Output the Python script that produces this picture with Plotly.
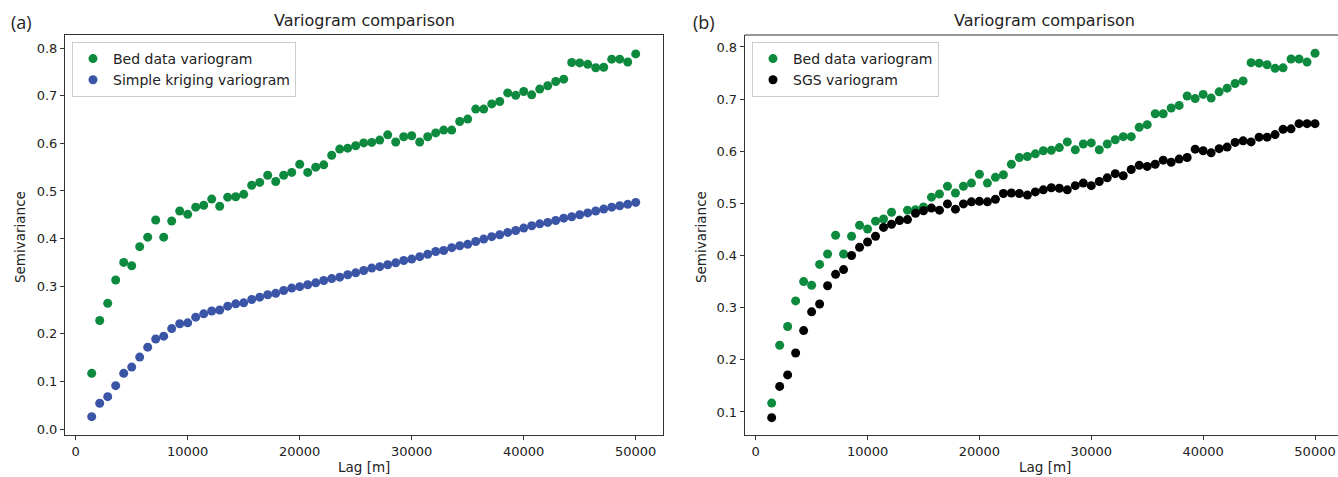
import plotly.graph_objects as go

# ---- data ----
lag = [1429, 2143, 2857, 3571, 4286, 5000, 5714, 6429, 7143, 7857, 8571, 9286,
       10000, 10714, 11429, 12143, 12857, 13571, 14286, 15000, 15714, 16429, 17143, 17857,
       18571, 19286, 20000, 20714, 21429, 22143, 22857, 23571, 24286, 25000, 25714, 26429,
       27143, 27857, 28571, 29286, 30000, 30714, 31429, 32143, 32857, 33571, 34286, 35000,
       35714, 36429, 37143, 37857, 38571, 39286, 40000, 40714, 41429, 42143, 42857, 43571,
       44286, 45000, 45714, 46429, 47143, 47857, 48571, 49286, 50000]

bed_data = [0.117, 0.228, 0.264, 0.313, 0.350, 0.343, 0.383, 0.403, 0.439, 0.403,
            0.437, 0.458, 0.451, 0.466, 0.470, 0.483, 0.468, 0.487, 0.488, 0.493,
            0.512, 0.518, 0.533, 0.520, 0.533, 0.539, 0.556, 0.539, 0.550, 0.555,
            0.575, 0.588, 0.590, 0.595, 0.601,
            0.602, 0.607, 0.618, 0.603, 0.614, 0.616, 0.603, 0.614, 0.622, 0.628,
            0.628, 0.646, 0.651, 0.672, 0.672, 0.683, 0.688, 0.706, 0.701, 0.709,
            0.702, 0.714, 0.721, 0.730, 0.735, 0.770, 0.769, 0.766, 0.759, 0.760,
            0.777, 0.777, 0.771, 0.788]

simple_kriging = [0.026, 0.054, 0.068, 0.091, 0.117, 0.130, 0.151, 0.172, 0.189, 0.195,
                  0.211, 0.221, 0.223, 0.235, 0.242, 0.248, 0.250, 0.258, 0.263, 0.265,
                  0.272, 0.277, 0.282, 0.285, 0.291, 0.296, 0.299, 0.303, 0.307, 0.312,
                  0.316, 0.319, 0.324, 0.328, 0.333,
                  0.338, 0.341, 0.345, 0.349, 0.354, 0.357, 0.362, 0.367, 0.373, 0.375,
                  0.381, 0.385, 0.388, 0.394, 0.399, 0.404, 0.408, 0.413, 0.417, 0.422,
                  0.427, 0.431, 0.434, 0.438, 0.443, 0.446, 0.450, 0.454, 0.458, 0.462,
                  0.466, 0.469, 0.472, 0.476]

sgs = [0.089, 0.149, 0.171, 0.213, 0.256, 0.292, 0.307, 0.342, 0.364, 0.373,
       0.400, 0.416, 0.426, 0.437, 0.454, 0.460, 0.467, 0.469, 0.481, 0.486,
       0.491, 0.487, 0.499, 0.489, 0.499, 0.503, 0.504, 0.503, 0.508, 0.519,
       0.520, 0.519, 0.516, 0.522,
       0.526, 0.530, 0.529, 0.526, 0.534, 0.539, 0.534, 0.542, 0.549, 0.557,
       0.553, 0.565, 0.573, 0.571, 0.575, 0.583, 0.579, 0.585, 0.588, 0.604,
       0.601, 0.597, 0.605, 0.608, 0.617, 0.620, 0.618, 0.627, 0.627, 0.632,
       0.642, 0.643, 0.653, 0.653, 0.653]

x_ticks = [0, 10000, 20000, 30000, 40000, 50000]
title_text = "Variogram comparison"
xlabel = "Lag [m]"
ylabel = "Semivariance"

GREEN = "#0d8a3d"
BLUE = "#3a54a6"
BLACK = "#000000"
FONT = "DejaVu Sans"
W, H = 1338, 477


def px_x(p):
    return p / W


def px_y(p):
    return 1 - p / H


fig = go.Figure()

fig.add_trace(go.Scatter(x=lag, y=bed_data, mode="markers", name="Bed data variogram",
                         marker=dict(color=GREEN, size=9), xaxis="x", yaxis="y", legend="legend"))
fig.add_trace(go.Scatter(x=lag, y=simple_kriging, mode="markers", name="Simple kriging variogram",
                         marker=dict(color=BLUE, size=9), xaxis="x", yaxis="y", legend="legend"))
fig.add_trace(go.Scatter(x=lag, y=bed_data, mode="markers", name="Bed data variogram",
                         marker=dict(color=GREEN, size=9), xaxis="x2", yaxis="y2", legend="legend2"))
fig.add_trace(go.Scatter(x=lag, y=sgs, mode="markers", name="SGS variogram",
                         marker=dict(color=BLACK, size=9), xaxis="x2", yaxis="y2", legend="legend2"))

axis_common = dict(showgrid=False, zeroline=False, showline=True, linecolor="#333333", linewidth=1,
                   ticks="outside", ticklen=4, tickwidth=1, tickcolor="#333333",
                   tickfont=dict(family=FONT, size=13, color="#222222"), automargin=False)

ydom = [px_y(435), px_y(35)]
legend_common = dict(xanchor="left", yanchor="top",
                     bgcolor="rgba(255,255,255,0.8)", bordercolor="#cccccc", borderwidth=1,
                     font=dict(family=FONT, size=14, color="#222222"), itemwidth=30,
                     tracegroupgap=0)
fig.update_layout(
    width=W, height=H,
    margin=dict(l=0, r=0, t=0, b=0),
    paper_bgcolor="white", plot_bgcolor="white",
    font=dict(family=FONT, size=13, color="#222222"),
    xaxis=dict(domain=[px_x(65), px_x(663)], range=[-955, 52437], tickvals=x_ticks,
               tickformat="d", anchor="y", mirror=True, **axis_common),
    yaxis=dict(domain=ydom, range=[-0.0126, 0.8277], dtick=0.1, tick0=0, tickformat=".1f",
               anchor="x", mirror=True, **axis_common),
    xaxis2=dict(domain=[px_x(744.7), 1.0], range=[-982, 52054], tickvals=x_ticks,
                tickformat="d", anchor="y2", mirror=False, **axis_common),
    yaxis2=dict(domain=ydom, range=[0.0558, 0.823], dtick=0.1, tick0=0, tickformat=".1f",
                anchor="x2", mirror=False, **axis_common),
    legend=dict(x=px_x(72), y=px_y(42), **legend_common),
    legend2=dict(x=px_x(752), y=px_y(42), **legend_common),
    showlegend=True,
)

# top border of the right panel (its right edge is cut off in the reference)
fig.add_shape(type="line", xref="x2 domain", yref="y2 domain", x0=0, x1=1, y0=1, y1=1,
              line=dict(color="#333333", width=1))

annotations = [
    dict(text=title_text, x=px_x(364), y=px_y(21), font=dict(size=16, family=FONT)),
    dict(text=title_text, x=px_x(1044), y=px_y(21), font=dict(size=16, family=FONT)),
    dict(text=xlabel, x=px_x(364), y=px_y(467), font=dict(size=13.5, family=FONT)),
    dict(text=xlabel, x=px_x(1045), y=px_y(467), font=dict(size=13.5, family=FONT)),
    dict(text=ylabel, x=px_x(20), y=px_y(237), textangle=-90, font=dict(size=13.5, family=FONT)),
    dict(text=ylabel, x=px_x(701), y=px_y(237), textangle=-90, font=dict(size=13.5, family=FONT)),
    dict(text="(a)", x=px_x(21), y=px_y(22), font=dict(size=18, family="Open Sans")),
    dict(text="(b)", x=px_x(704), y=px_y(22), font=dict(size=18, family="Open Sans")),
]
for a in annotations:
    a.update(xref="paper", yref="paper", xanchor="center", yanchor="middle", showarrow=False)
    a["font"]["color"] = "#222222"
    fig.add_annotation(**a)

fig.write_html("out.html", config={"displayModeBar": False},
               post_script="document.body.style.margin='0';document.body.style.overflow='hidden';")
